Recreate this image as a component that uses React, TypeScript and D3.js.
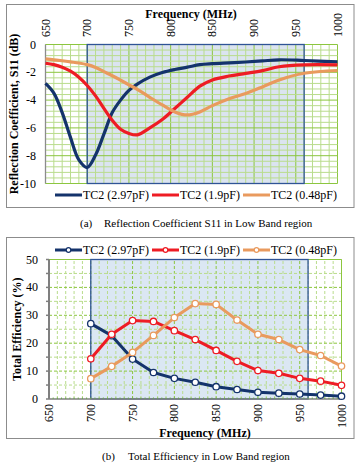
import React from "react";
import * as d3 from "d3";

// ---- data ----
const seriesNames = ["TC2 (2.97pF)", "TC2 (1.9pF)", "TC2 (0.48pF)"];
const seriesColors = ["#14336b", "#ee1c24", "#e99a5e"];

// (a) reflection coefficient S11, dB
const s11Freq = [650, 660, 670, 680, 690, 700, 710, 720, 730, 740, 750, 760, 775, 790, 805, 820, 835, 850, 870, 890, 910, 930, 960, 1000];
const s11Tc297 = [-2.8, -3.5, -4.9, -6.7, -8.3, -8.85, -7.95, -6.45, -4.9, -4.0, -3.3, -2.85, -2.35, -2.02, -1.8, -1.63, -1.45, -1.38, -1.32, -1.26, -1.18, -1.1, -1.15, -1.25];
const s11Tc19 = [-1.35, -1.45, -1.63, -1.92, -2.35, -2.95, -3.7, -4.6, -5.45, -6.1, -6.4, -6.5, -6.0, -5.4, -4.6, -3.8, -3.0, -2.55, -2.27, -2.08, -1.88, -1.6, -1.46, -1.46];
const s11Tc048 = [-1.03, -1.1, -1.17, -1.25, -1.33, -1.45, -1.65, -1.95, -2.25, -2.57, -2.9, -3.23, -3.8, -4.35, -4.85, -5.07, -4.85, -4.4, -3.9, -3.52, -3.05, -2.55, -2.07, -1.87];

// (b) total efficiency, %
const effFreq = [700, 725, 750, 775, 800, 825, 850, 875, 900, 925, 950, 975, 1000];
const effTc297 = [27, 22.7, 14.3, 9.5, 7.4, 6, 4.4, 3.4, 2.4, 2.1, 1.8, 1.4, 1];
const effTc19 = [14.4, 23.2, 28.1, 27.8, 24.5, 21.3, 17.4, 13.5, 10.2, 9.2, 7.4, 6.4, 4.9];
const effTc048 = [7.3, 11.7, 16.7, 22.8, 29.2, 34.2, 33.9, 28.3, 23.2, 21.3, 17.7, 15.6, 11.8];

const freqTicks = [650, 700, 750, 800, 850, 900, 950, 1000];
const s11Ticks = [0, -2, -4, -6, -8, -10];
const effTicks = [0, 10, 20, 30, 40, 50];
const band = [700, 960];

const FONT = "Liberation Serif, DejaVu Serif, serif";
const majorGreen = "#8cc63f";
const minorGreen = "#b9dc8c";

function Legend({ y, markers }: { y: number; markers: boolean }) {
  const xs = [55, 152, 243];
  return (
    <g style={{ fontFamily: FONT }} fontSize={12}>
      {seriesNames.map((n, i) => (
        <g key={n}>
          <line x1={xs[i]} x2={xs[i] + 27} y1={y} y2={y} stroke={seriesColors[i]} strokeWidth={3} />
          {markers && <circle cx={xs[i] + 13.5} cy={y} r={2.3} fill="#fff" stroke={seriesColors[i]} strokeWidth={1.2} />}
          <text x={xs[i] + 28} y={y + 4} fill="#000">{n}</text>
        </g>
      ))}
    </g>
  );
}

function S11Chart() {
  const x = d3.scaleLinear().domain([650, 1000]).range([45.5, 337.5]);
  const y = d3.scaleLinear().domain([0, -10]).range([44.5, 183.5]);
  const line = d3.line<[number, number]>()
    .x((d) => x(d[0]))
    .y((d) => y(d[1]))
    .curve(d3.curveCatmullRom.alpha(0.5));
  const series = [s11Tc297, s11Tc19, s11Tc048];
  const minorX = d3.range(650, 1001, 10);
  const minorY = d3.range(0, -10.01, -0.4);
  return (
    <g>
      <rect x={6.5} y={4.5} width={347.5} height={203} fill="#fff" stroke="#8c8c8c" strokeWidth={1} />
      <rect x={x(band[0])} y={y(0)} width={x(band[1]) - x(band[0])} height={y(-10) - y(0)} fill="#dbe4f0" />
      {minorX.map((f) => (
        <line key={"vx" + f} x1={x(f)} x2={x(f)} y1={y(0)} y2={y(-10)} stroke={f % 50 === 0 ? majorGreen : minorGreen} strokeWidth={1} />
      ))}
      {minorY.map((v) => (
        <line key={"hy" + v} x1={x(650)} x2={x(1000)} y1={y(v)} y2={y(v)} stroke={Math.abs(Math.round(v * 10)) % 20 === 0 ? majorGreen : minorGreen} strokeWidth={1} />
      ))}
      <rect x={x(band[0])} y={y(0)} width={x(band[1]) - x(band[0])} height={y(-10) - y(0)} fill="none" stroke="#2f5496" strokeWidth={1.3} />
      <line x1={x(650)} x2={x(650)} y1={y(0)} y2={y(-10)} stroke="#8c8c8c" strokeWidth={1.3} />
      {series.map((s, i) => (
        <path key={i} d={line(s11Freq.map((f, j) => [f, s[j]]))!} fill="none" stroke={seriesColors[i]} strokeWidth={3.2} strokeLinejoin="round" />
      ))}
      <g style={{ fontFamily: FONT }} fontSize={12} fill="#000">
        {s11Ticks.map((t) => (
          <text key={t} x={36} y={y(t) + 4} textAnchor="end">{t}</text>
        ))}
        {freqTicks.map((t) => (
          <text key={t} transform={`translate(${x(t) + 4},37) rotate(-90)`} textAnchor="start">{t}</text>
        ))}
        <text x={191} y={18} textAnchor="middle" fontWeight="bold">Frequency (MHz)</text>
        <text transform={`translate(18,${(y(0) + y(-10)) / 2}) rotate(-90)`} textAnchor="middle" fontWeight="bold">Reflection Coefficient, S11 (dB)</text>
      </g>
      <Legend y={195} markers={false} />
    </g>
  );
}

function EffChart() {
  const x = d3.scaleLinear().domain([650, 1000]).range([49, 341.5]);
  const y = d3.scaleLinear().domain([0, 50]).range([399, 259.5]);
  const line = d3.line<[number, number]>()
    .x((d) => x(d[0]))
    .y((d) => y(d[1]));
  const series = [effTc297, effTc19, effTc048];
  const gridX = d3.range(660, 1001, 10);
  const gridY = d3.range(5, 51, 5);
  return (
    <g>
      <rect x={6.5} y={237.5} width={347.5} height={201} fill="#fff" stroke="#8c8c8c" strokeWidth={1} />
      <rect x={x(band[0])} y={y(50)} width={x(band[1]) - x(band[0])} height={y(0) - y(50)} fill="#dbe7f3" />
      {gridX.map((f) => (
        <line key={"vx" + f} x1={x(f)} x2={x(f)} y1={y(0)} y2={y(50)} stroke={f % 50 === 0 ? majorGreen : minorGreen} strokeWidth={1} strokeDasharray="3,2" />
      ))}
      {gridY.map((v) => (
        <line key={"hy" + v} x1={x(650)} x2={x(1000)} y1={y(v)} y2={y(v)} stroke={v % 10 === 0 ? majorGreen : minorGreen} strokeWidth={1} strokeDasharray="3,2" />
      ))}
      <line x1={x(650)} x2={x(1000)} y1={y(50)} y2={y(50)} stroke={majorGreen} strokeWidth={1} />
      <line x1={x(1000)} x2={x(1000)} y1={y(50)} y2={y(0)} stroke={majorGreen} strokeWidth={1} />
      <rect x={x(band[0])} y={y(50)} width={x(band[1]) - x(band[0])} height={y(0) - y(50)} fill="none" stroke="#2f5496" strokeWidth={1.3} />
      <line x1={x(650)} x2={x(650)} y1={y(0)} y2={y(50)} stroke="#7f7f7f" strokeWidth={2} />
      {d3.range(0, 51, 5).map((v) => (
        <line key={"tk" + v} x1={x(650) - 3} x2={x(650)} y1={y(v)} y2={y(v)} stroke="#7f7f7f" strokeWidth={1.5} />
      ))}
      <line x1={x(650)} x2={x(1000)} y1={y(0)} y2={y(0)} stroke="#7f7f7f" strokeWidth={1.5} />
      {d3.range(655, 1000, 5).map((f) => (
        <line key={"mt" + f} x1={x(f)} x2={x(f)} y1={y(0) - 1.5} y2={y(0)} stroke="#6aa84f" strokeWidth={1} />
      ))}
      {series.map((s, i) => (
        <g key={i}>
          <path d={line(effFreq.map((f, j) => [f, s[j]]))!} fill="none" stroke={seriesColors[i]} strokeWidth={3} strokeLinejoin="round" />
          {effFreq.map((f, j) => (
            <circle key={f} cx={x(f)} cy={y(s[j])} r={3.2} fill="#fff" stroke={seriesColors[i]} strokeWidth={1.3} />
          ))}
        </g>
      ))}
      <g style={{ fontFamily: FONT }} fontSize={12} fill="#000">
        {effTicks.map((t) => (
          <text key={t} x={38} y={y(t) + 4} textAnchor="end">{t}</text>
        ))}
        {freqTicks.map((t) => (
          <text key={t} transform={`translate(${x(t) + 4},404) rotate(-90)`} textAnchor="end">{t}</text>
        ))}
        <text x={205} y={437} textAnchor="middle" fontWeight="bold">Frequency (MHz)</text>
        <text transform={`translate(21,${(y(0) + y(50)) / 2}) rotate(-90)`} textAnchor="middle" fontWeight="bold">Total Efficiency (%)</text>
      </g>
      <Legend y={250} markers={true} />
    </g>
  );
}

export default function App() {
  return (
    <svg width={360} height={467} style={{ position: "absolute", left: 0, top: 0, background: "#fff" }}>
      <S11Chart />
      <EffChart />
      <g style={{ fontFamily: FONT }} fontSize={11} fill="#000">
        <text x={80} y={227}>(a)</text>
        <text x={104} y={227}>Reflection Coefficient S11 in Low Band region</text>
        <text x={102} y={460}>(b)</text>
        <text x={128} y={460}>Total Efficiency in Low Band region</text>
      </g>
    </svg>
  );
}
